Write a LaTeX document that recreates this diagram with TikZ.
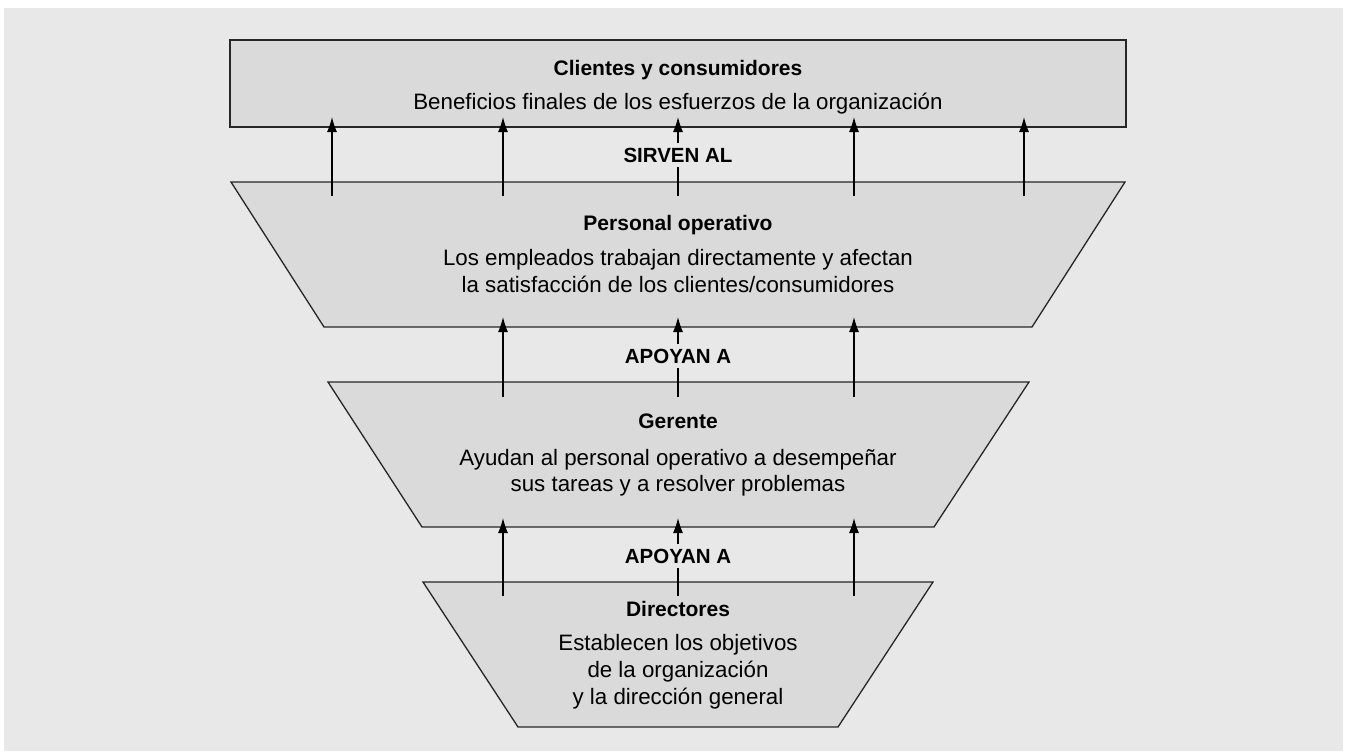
\documentclass[tikz,border=0pt]{standalone}
\usepackage{fontspec}
\setmainfont{Liberation Sans}
\usetikzlibrary{arrows.meta}
\definecolor{bggray}{HTML}{E8E8E8}
\definecolor{boxgray}{HTML}{DADADA}
\begin{document}
\begin{tikzpicture}[x=1pt,y=-1pt,
  shapebox/.style={fill=boxgray,draw=black!85,line width=1.3pt,line join=miter},
  txt/.style={font=\fontsize{22.3}{27}\selectfont,inner sep=0pt,anchor=base},
  ttl/.style={font=\fontsize{21}{27}\selectfont\bfseries,inner sep=0pt,anchor=base},
  lbl/.style={font=\fontsize{20.5}{24}\selectfont\bfseries,fill=bggray,inner xsep=3pt,inner ysep=5pt,anchor=base},
  uparrow/.style={-{Latex[length=15pt,width=10pt]},line width=1.2pt}]
\useasboundingbox (0,0) rectangle (1347,755);
\fill[white] (0,0) rectangle (1347,755);
\fill[bggray] (4,8) rectangle (1343,751);

% shapes
\draw[shapebox] (230,40) rectangle (1126,127);
\draw[shapebox] (231,182) -- (1125,182) -- (1032,327) -- (324,327) -- cycle;
\draw[shapebox] (328,382) -- (1029,382) -- (934,527) -- (422,527) -- cycle;
\draw[shapebox] (423,582) -- (933,582) -- (838,727) -- (518,727) -- cycle;

% arrow end points
\foreach \i/\x in {1/332,2/503,3/678,4/854,5/1024}{
  \coordinate (ta\i) at (\x,196);
  \coordinate (tb\i) at (\x,117);
}
\foreach \i/\x in {1/503,2/678,3/854}{
  \coordinate (ma\i) at (\x,397);
  \coordinate (mb\i) at (\x,317);
  \coordinate (la\i) at (\x,596);
  \coordinate (lb\i) at (\x,518);
}
\foreach \i in {1,...,5}{\draw[uparrow] (ta\i) -- (tb\i);}
\foreach \i in {1,2,3}{\draw[uparrow] (ma\i) -- (mb\i);}
\foreach \i in {1,2,3}{\draw[uparrow] (la\i) -- (lb\i);}

% labels on the arrows
\node[lbl] (sirven) at (678,162) {SIRVEN AL};
\node[lbl] (apoyan1) at (678,363) {APOYAN A};
\node[lbl] (apoyan2) at (678,563) {APOYAN A};

% texts
\node[ttl] (t1) at (678,75) {Clientes y consumidores};
\node[txt] (t1b) at (678,109) {Beneficios finales de los esfuerzos de la organización};

\node[ttl] (t2) at (678,230) {Personal operativo};
\node[txt] (t2b) at (678,265) {Los empleados trabajan directamente y afectan};
\node[txt] (t2c) at (678,292) {la satisfacción de los clientes/consumidores};

\node[ttl] (t3) at (678,428) {Gerente};
\node[txt] (t3b) at (678,465) {Ayudan al personal operativo a desempeñar};
\node[txt] (t3c) at (678,491) {sus tareas y a resolver problemas};

\node[ttl] (t4) at (678,616) {Directores};
\node[txt] (t4b) at (678,650) {Establecen los objetivos};
\node[txt] (t4c) at (678,677) {de la organización};
\node[txt] (t4d) at (678,704) {y la dirección general};
\end{tikzpicture}
\end{document}
